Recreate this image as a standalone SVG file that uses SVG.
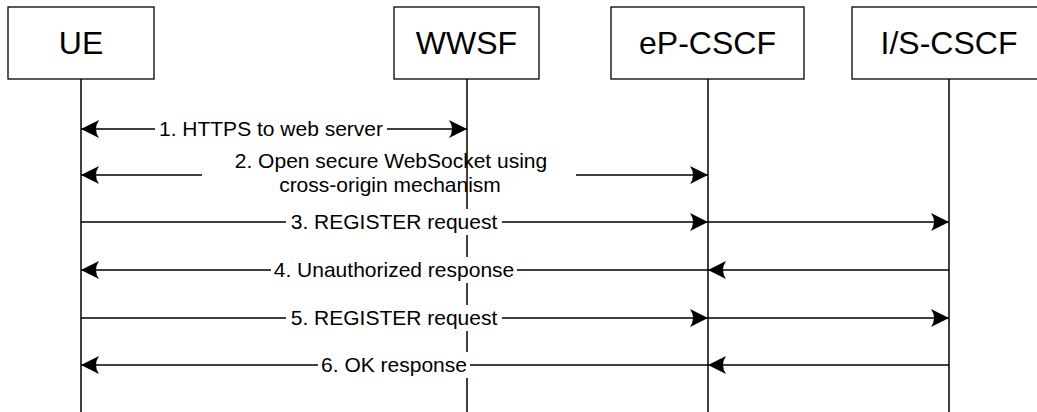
<svg xmlns="http://www.w3.org/2000/svg" width="1037" height="412" viewBox="0 0 1037 412">
<style>
.box{fill:#fff;stroke:#000;stroke-width:1.3}
.life{stroke:#000;stroke-width:1.5;fill:none}
.name{font-family:"Liberation Sans",Arial,sans-serif;font-size:32px;fill:#000;text-anchor:middle}
.msg{stroke:#000;stroke-width:1.5;fill:none}
.lbl{font-family:"Liberation Sans",Arial,sans-serif;font-size:21px;fill:#000;text-anchor:middle}
.bg{fill:#fff;stroke:none}
</style>
<defs>
<marker id="ah" viewBox="-19 -10 20 20" refX="0" refY="0" markerWidth="20" markerHeight="20" markerUnits="userSpaceOnUse" orient="auto-start-reverse">
<path d="M0,0 L-18,-9 Q-12,0 -18,9 Z" fill="#000"/>
</marker>
</defs>
<rect width="1037" height="412" fill="#fff"/>
<g id="UE">
<rect class="box" x="8" y="7" width="146" height="72"/>
<text class="name" x="81" y="54">UE</text>
<line class="life" x1="81" y1="79" x2="81" y2="412"/>
</g>
<g id="WWSF">
<rect class="box" x="394" y="7" width="145" height="72"/>
<text class="name" x="466.5" y="54">WWSF</text>
<line class="life" x1="467" y1="79" x2="467" y2="412"/>
</g>
<g id="eP-CSCF">
<rect class="box" x="611" y="7" width="193" height="72"/>
<text class="name" x="707.5" y="54">eP-CSCF</text>
<line class="life" x1="708" y1="79" x2="708" y2="412"/>
</g>
<g id="IS-CSCF">
<rect class="box" x="852" y="7" width="194" height="72"/>
<text class="name" x="949" y="54">I/S-CSCF</text>
<line class="life" x1="949" y1="79" x2="949" y2="412"/>
</g>
<g id="connectors">
<line class="msg" x1="81" y1="129" x2="467" y2="129" marker-start="url(#ah)" marker-end="url(#ah)"/>
<rect class="bg" x="155" y="116" width="232" height="26"/>
<text class="lbl" x="271" y="136">1. HTTPS to web server</text>

<line class="msg" x1="202" y1="175" x2="81" y2="175" marker-end="url(#ah)"/>
<line class="msg" x1="576" y1="175" x2="708" y2="175" marker-end="url(#ah)"/>
<text class="lbl" x="391" y="168">2. Open secure WebSocket using</text>
<text class="lbl" x="390" y="192">cross-origin mechanism</text>

<line class="msg" x1="81" y1="222" x2="708" y2="222" marker-end="url(#ah)"/>
<line class="msg" x1="708" y1="222" x2="949" y2="222" marker-end="url(#ah)"/>
<rect class="bg" x="286" y="209" width="216" height="26"/>
<text class="lbl" x="394" y="229">3. REGISTER request</text>

<line class="msg" x1="949" y1="270" x2="708" y2="270" marker-end="url(#ah)"/>
<line class="msg" x1="708" y1="270" x2="81" y2="270" marker-end="url(#ah)"/>
<rect class="bg" x="271" y="257" width="246" height="26"/>
<text class="lbl" x="394" y="277">4. Unauthorized response</text>

<line class="msg" x1="81" y1="318" x2="708" y2="318" marker-end="url(#ah)"/>
<line class="msg" x1="708" y1="318" x2="949" y2="318" marker-end="url(#ah)"/>
<rect class="bg" x="286" y="305" width="216" height="26"/>
<text class="lbl" x="394" y="325">5. REGISTER request</text>

<line class="msg" x1="949" y1="365" x2="708" y2="365" marker-end="url(#ah)"/>
<line class="msg" x1="708" y1="365" x2="81" y2="365" marker-end="url(#ah)"/>
<rect class="bg" x="318" y="352" width="152" height="26"/>
<text class="lbl" x="394" y="372">6. OK response</text>
</g>
</svg>
